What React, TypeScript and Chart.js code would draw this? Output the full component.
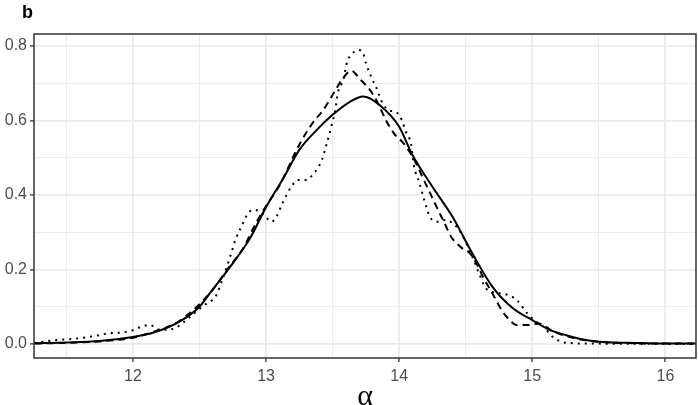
import React, { useEffect, useRef } from "react";
import { Chart, registerables } from "chart.js";

Chart.register(...registerables);

// Series: x positions and density values
const solidX = [11.26, 11.5, 11.75, 12.0, 12.15, 12.35, 12.5, 12.58, 12.73, 12.88, 13.0, 13.13, 13.25, 13.38, 13.5, 13.63, 13.73, 13.85, 14.0, 14.1, 14.25, 14.4, 14.55, 14.7, 14.85, 15.0, 15.13, 15.25, 15.38, 15.5, 15.7, 16.0, 16.25];
const solidY = [0.002, 0.004, 0.008, 0.019, 0.030, 0.060, 0.100, 0.137, 0.207, 0.284, 0.367, 0.445, 0.521, 0.574, 0.615, 0.650, 0.664, 0.642, 0.583, 0.507, 0.422, 0.342, 0.243, 0.154, 0.097, 0.064, 0.038, 0.024, 0.012, 0.006, 0.003, 0.001, 0.001];

const dashedX = [11.26, 11.5, 11.75, 12.0, 12.15, 12.35, 12.58, 12.73, 12.82, 12.93, 13.0, 13.1, 13.25, 13.35, 13.43, 13.5, 13.57, 13.64, 13.71, 13.78, 13.84, 13.9, 13.97, 14.03, 14.1, 14.21, 14.28, 14.34, 14.39, 14.47, 14.53, 14.58, 14.63, 14.7, 14.77, 14.83, 14.88, 14.97, 15.05, 15.15, 15.25, 15.4, 15.6, 16.0, 16.25];
const dashedY = [0.001, 0.003, 0.007, 0.017, 0.032, 0.062, 0.137, 0.210, 0.252, 0.328, 0.370, 0.425, 0.535, 0.593, 0.628, 0.668, 0.709, 0.733, 0.709, 0.682, 0.647, 0.601, 0.561, 0.540, 0.503, 0.422, 0.369, 0.325, 0.288, 0.258, 0.244, 0.217, 0.180, 0.136, 0.091, 0.064, 0.051, 0.051, 0.055, 0.035, 0.022, 0.010, 0.004, 0.001, 0.001];

const dottedX = [11.26, 11.44, 11.56, 11.69, 11.81, 11.94, 12.0, 12.07, 12.13, 12.19, 12.25, 12.32, 12.38, 12.5, 12.56, 12.62, 12.68, 12.73, 12.77, 12.82, 12.86, 12.9, 12.95, 13.0, 13.04, 13.08, 13.12, 13.19, 13.24, 13.3, 13.35, 13.42, 13.45, 13.49, 13.52, 13.54, 13.58, 13.61, 13.64, 13.69, 13.73, 13.75, 13.8, 13.83, 13.87, 13.92, 13.98, 14.02, 14.05, 14.09, 14.11, 14.15, 14.19, 14.23, 14.28, 14.35, 14.4, 14.44, 14.48, 14.55, 14.6, 14.65, 14.72, 14.78, 14.83, 14.89, 14.96, 15.03, 15.09, 15.15, 15.26, 15.5, 16.25];
const dottedY = [0.003, 0.011, 0.014, 0.020, 0.028, 0.032, 0.037, 0.047, 0.051, 0.039, 0.038, 0.043, 0.058, 0.094, 0.110, 0.127, 0.181, 0.234, 0.279, 0.319, 0.348, 0.360, 0.356, 0.340, 0.328, 0.343, 0.375, 0.422, 0.440, 0.440, 0.454, 0.494, 0.530, 0.583, 0.628, 0.674, 0.709, 0.758, 0.776, 0.789, 0.781, 0.754, 0.709, 0.687, 0.650, 0.628, 0.622, 0.601, 0.570, 0.535, 0.480, 0.435, 0.385, 0.342, 0.328, 0.333, 0.325, 0.311, 0.288, 0.234, 0.190, 0.150, 0.138, 0.135, 0.130, 0.116, 0.083, 0.060, 0.045, 0.020, 0.003, 0.001, 0.000];

const xTicks = [11.5, 12, 12.5, 13, 13.5, 14, 14.5, 15, 15.5, 16];
const yTicks = [0, 0.1, 0.2, 0.3, 0.4, 0.5, 0.6, 0.7, 0.8];
const xMin = 11.257;
const xMax = 16.23;
const yMin = -0.0376;
const yMax = 0.832;

const panelLabel = "b";
const xTitle = "α";

const isMajorX = (v: number) => Math.abs(v - Math.round(v)) < 1e-6;
const isMajorY = (v: number) => Math.abs(v * 5 - Math.round(v * 5)) < 1e-6;

const toPoints = (xs: number[], ys: number[]) => xs.map((x, i) => ({ x, y: ys[i] }));

const GRID = "#EBEBEB";
const BORDER = "#333333";
const TEXT = "#4D4D4D";

export default function App() {
  const ref = useRef<HTMLCanvasElement | null>(null);

  useEffect(() => {
    if (!ref.current) return;
    const panelPlugin = {
      id: "panelDecor",
      afterDatasetsDraw(chart: any) {
        const { ctx, chartArea } = chart;
        ctx.save();
        ctx.strokeStyle = BORDER;
        ctx.lineWidth = 1.5;
        ctx.strokeRect(chartArea.left, chartArea.top, chartArea.right - chartArea.left, chartArea.bottom - chartArea.top);
        ctx.restore();
      },
      afterDraw(chart: any) {
        const { ctx } = chart;
        ctx.save();
        ctx.fillStyle = "#000000";
        ctx.font = 'bold 18px "Liberation Sans", Arial, sans-serif';
        ctx.textBaseline = "alphabetic";
        ctx.textAlign = "left";
        ctx.fillText(panelLabel, 22, 18);
        ctx.restore();
      },
    };

    const common = {
      fill: false,
      pointRadius: 0,
      borderColor: "#000000",
      borderWidth: 2,
      cubicInterpolationMode: "monotone" as const,
    };

    const chart = new Chart(ref.current, {
      type: "line",
      data: {
        datasets: [
          { ...common, label: "solid", data: toPoints(solidX, solidY) },
          { ...common, label: "dashed", data: toPoints(dashedX, dashedY), borderDash: [7, 5] },
          { ...common, label: "dotted", data: toPoints(dottedX, dottedY), borderDash: [2, 5] },
        ],
      },
      options: {
        animation: false,
        responsive: false,
        maintainAspectRatio: false,
        devicePixelRatio: 1,
        layout: { padding: { top: 34, right: 2, left: 0, bottom: 0 } },
        plugins: {
          legend: { display: false },
          tooltip: { enabled: false },
          title: { display: false },
        },
        scales: {
          x: {
            type: "linear",
            min: xMin,
            max: xMax,
            afterBuildTicks: (s: any) => {
              s.ticks = xTicks.map((v) => ({ value: v }));
            },
            afterFit: (s: any) => {
              s.height = 47;
            },
            border: { display: false },
            grid: {
              color: GRID,
              lineWidth: (c: any) => (isMajorX(c.tick.value) ? 1.8 : 0.9),
              tickColor: (c: any) => (isMajorX(c.tick.value) ? BORDER : "rgba(0,0,0,0)"),
              tickLength: 4,
              tickWidth: 1.3,
            },
            ticks: {
              autoSkip: false,
              maxRotation: 0,
              padding: 5,
              color: TEXT,
              font: { family: '"Liberation Sans", Arial, sans-serif', size: 16 },
              callback: (v: any) => (isMajorX(Number(v)) ? String(Math.round(Number(v))) : ""),
            },
            title: {
              display: true,
              text: xTitle,
              color: "#000000",
              font: { family: '"Liberation Serif", "DejaVu Serif", serif', size: 30, lineHeight: 0.5 },
              padding: { top: 0, bottom: 0 },
            },
          },
          y: {
            type: "linear",
            min: yMin,
            max: yMax,
            afterBuildTicks: (s: any) => {
              s.ticks = yTicks.map((v) => ({ value: v }));
            },
            afterFit: (s: any) => {
              s.width = 34;
            },
            border: { display: false },
            grid: {
              color: GRID,
              lineWidth: (c: any) => (isMajorY(c.tick.value) ? 1.8 : 0.9),
              tickColor: (c: any) => (isMajorY(c.tick.value) ? BORDER : "rgba(0,0,0,0)"),
              tickLength: 4,
              tickWidth: 1.3,
            },
            ticks: {
              autoSkip: false,
              padding: 3,
              color: TEXT,
              font: { family: '"Liberation Sans", Arial, sans-serif', size: 16 },
              callback: (v: any) => (isMajorY(Number(v)) ? Number(v).toFixed(1) : ""),
            },
          },
        },
      },
      plugins: [panelPlugin],
    });
    return () => chart.destroy();
  }, []);

  return (
    <div style={{ position: "fixed", left: 0, top: 0, width: 698, height: 405, background: "#ffffff" }}>
      <canvas ref={ref} width={698} height={405} style={{ display: "block", width: 698, height: 405 }} />
    </div>
  );
}
